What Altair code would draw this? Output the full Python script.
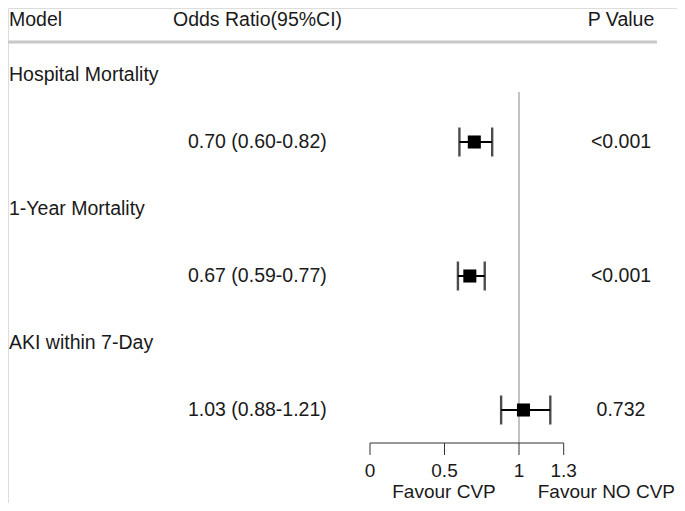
import altair as alt
import pandas as pd

# ---- data ----
models = ["Hospital Mortality", "1-Year Mortality", "AKI within 7-Day"]
odds = [0.70, 0.67, 1.03]
ci_low = [0.60, 0.59, 0.88]
ci_high = [0.82, 0.77, 1.21]
or_text = ["0.70 (0.60-0.82)", "0.67 (0.59-0.77)", "1.03 (0.88-1.21)"]
p_text = ["<0.001", "<0.001", "0.732"]
tick_values = [0, 0.5, 1, 1.3]
tick_labels = ["0", "0.5", "1", "1.3"]
favour_labels = ["Favour CVP", "Favour NO CVP"]
headers = ["Model", "Odds Ratio(95%CI)", "P Value"]
ref_value = [1]

FONT = "Liberation Sans"
FS = 19.5
FS_AX = 19
TXT = "#1a1a1a"

rows = pd.DataFrame({
    "model": models, "or": odds, "lo": ci_low, "hi": ci_high,
    "ortext": or_text, "p": p_text, "row": list(range(len(models))),
})
rows["labelrow"] = rows["row"] - 0.5
ticks = pd.DataFrame({"v": tick_values, "lab": tick_labels})
axisline = pd.DataFrame({"a": [min(tick_values)], "b": [max(tick_values)]})

# scales: 149 px per OR unit, 0 at page x=370 ; 134 px per row
W, H = 669, 495
x0 = -(370 - 8) / 149
xs = alt.Scale(domain=[x0, x0 + W / 149], nice=False, zero=False)
ys = alt.Scale(domain=[-1, H / 134 - 1], nice=False, zero=False, reverse=True)


def X(field):
    return alt.X(field, type="quantitative", scale=xs, axis=None)


def Y(field):
    return alt.Y(field, type="quantitative", scale=ys, axis=None)


base = alt.Chart(rows)

hdr_model = alt.Chart(pd.DataFrame({"h": [headers[0]]})).mark_text(
    font=FONT, fontSize=FS, baseline="middle", align="left", color=TXT
).encode(x=alt.value(1), y=alt.value(12), text="h:N")
hdr_or = alt.Chart(pd.DataFrame({"h": [headers[1]]})).mark_text(
    font=FONT, fontSize=FS, baseline="middle", align="left", color=TXT
).encode(x=alt.value(165), y=alt.value(12), text="h:N")
hdr_p = alt.Chart(pd.DataFrame({"h": [headers[2]]})).mark_text(
    font=FONT, fontSize=FS, baseline="middle", align="center", color=TXT
).encode(x=alt.value(613), y=alt.value(12), text="h:N")
hdr_line = alt.Chart(pd.DataFrame({"a": [0]})).mark_rule(color="#c8c8c8", strokeWidth=3).encode(
    x=alt.value(0), x2=alt.value(649), y=alt.value(34))

model_txt = base.mark_text(font=FONT, fontSize=FS, align="left", baseline="middle", color=TXT).encode(
    x=alt.value(1), y=Y("labelrow"), text="model:N")
or_txt = base.mark_text(font=FONT, fontSize=FS, align="left", baseline="middle", color=TXT).encode(
    x=alt.value(180), y=Y("row"), text="ortext:N")
p_txt = base.mark_text(font=FONT, fontSize=FS, align="center", baseline="middle", color=TXT).encode(
    x=alt.value(613), y=Y("row"), text="p:N")

refline = alt.Chart(pd.DataFrame({"v": ref_value})).mark_rule(color="#999999", strokeWidth=1.2).encode(
    x=X("v"), y=alt.value(84), y2=alt.value(435))

err = base.mark_rule(color="black", strokeWidth=2).encode(x=X("lo"), x2="hi", y=Y("row"))
cap_lo = base.mark_tick(orient="vertical", size=29, thickness=2.4, color="black").encode(
    x=X("lo"), y=Y("row"))
cap_hi = base.mark_tick(orient="vertical", size=29, thickness=2.4, color="black").encode(
    x=X("hi"), y=Y("row"))
pt = base.mark_square(size=170, color="black", opacity=1).encode(x=X("or"), y=Y("row"))

ax_line = alt.Chart(axisline).mark_rule(color="#333333", strokeWidth=1).encode(
    x=X("a"), x2="b", y=alt.value(435))
ax_ticks = alt.Chart(ticks).mark_rule(color="#333333", strokeWidth=1).encode(
    x=X("v"), y=alt.value(435), y2=alt.value(447))
ax_labels = alt.Chart(ticks).mark_text(font=FONT, fontSize=FS_AX, baseline="middle", color=TXT).encode(
    x=X("v"), y=alt.value(463), text="lab:N")
fav_cvp = alt.Chart(pd.DataFrame({"t": [favour_labels[0]]})).mark_text(
    font=FONT, fontSize=FS_AX, baseline="middle", color=TXT).encode(
    x=alt.value(436), y=alt.value(484), text="t:N")
fav_no = alt.Chart(pd.DataFrame({"t": [favour_labels[1]]})).mark_text(
    font=FONT, fontSize=FS_AX, baseline="middle", align="right", color=TXT).encode(
    x=alt.value(667), y=alt.value(484), text="t:N")

chart = alt.layer(
    hdr_line, hdr_model, hdr_or, hdr_p, model_txt, or_txt, p_txt, refline,
    err, cap_lo, cap_hi, pt, ax_line, ax_ticks, ax_labels, fav_cvp, fav_no
).properties(
    width=W, height=H, autosize=alt.AutoSizeParams(type="none"), padding=0
).configure_view(stroke=None).configure(background="white")

chart.save("out.html", embed_options={"renderer": "svg", "actions": False})
